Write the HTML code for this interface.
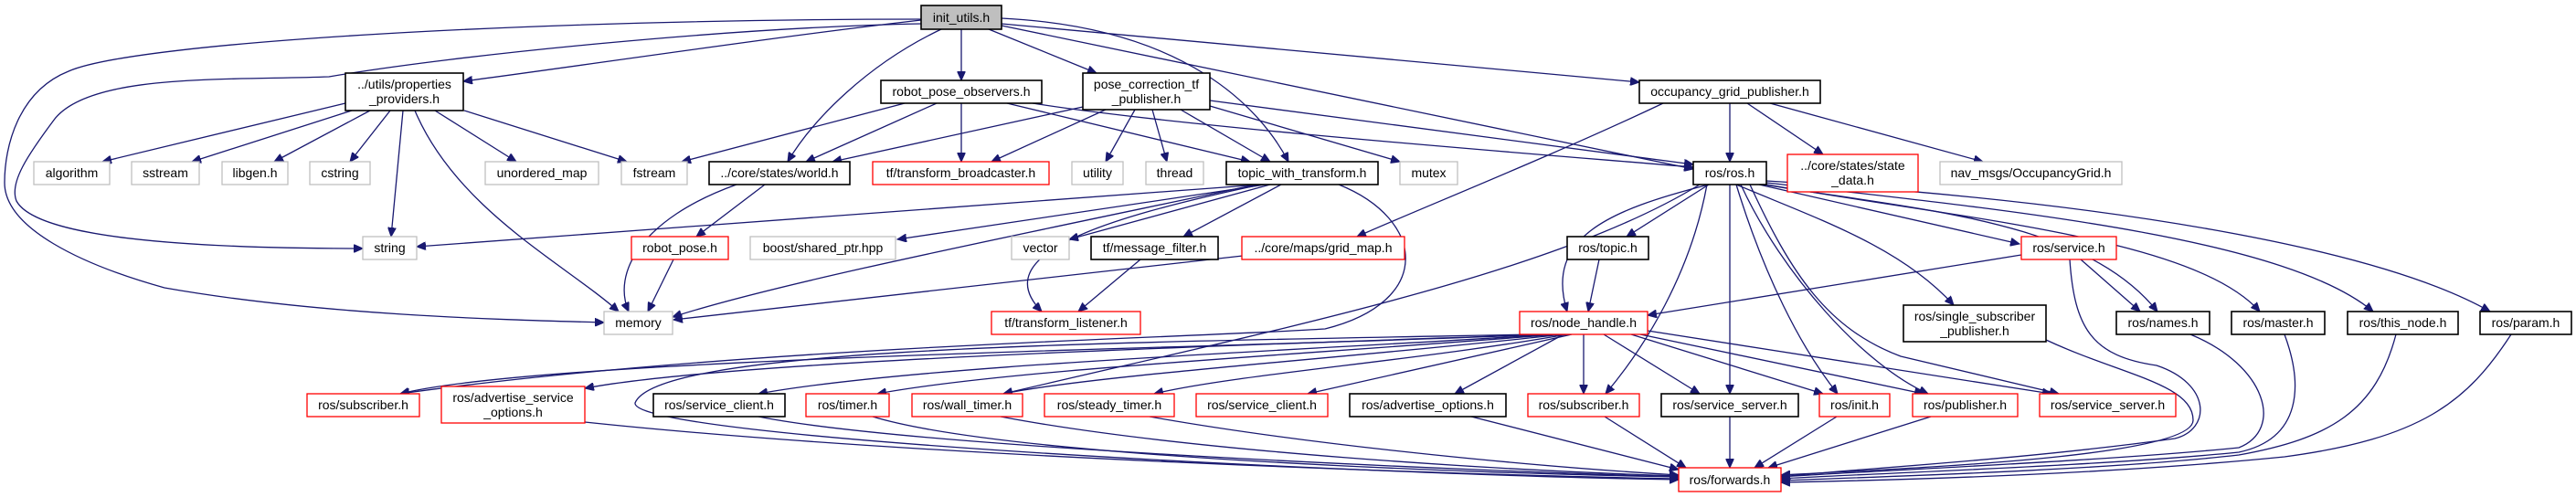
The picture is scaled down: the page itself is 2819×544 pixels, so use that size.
<!DOCTYPE html>
<html><head><meta charset="utf-8"><style>
html,body{margin:0;padding:0;background:#fff;}
svg{display:block;}
text{font-family:"Liberation Sans",sans-serif;font-size:14px;fill:#000;text-anchor:middle;}
.e{fill:none;stroke:#191970;stroke-width:1.3;marker-end:url(#a);}
.g{fill:#fff;stroke:#bfbfbf;stroke-width:1.3;}
.r{fill:#fff;stroke:#ff0000;stroke-width:1.3;}
.b{fill:#fff;stroke:#000;stroke-width:1.6;}
.s{fill:#bfbfbf;stroke:#000;stroke-width:1.6;}
</style></head><body>
<svg width="2819" height="544" viewBox="0 0 2819 544" xmlns="http://www.w3.org/2000/svg">
<defs><marker id="a" markerWidth="11" markerHeight="9" refX="10" refY="4.5" orient="auto" markerUnits="userSpaceOnUse"><path d="M0,0 L10,4.5 L0,9z" fill="#191970" stroke="#191970"/></marker></defs>
<g>
<!-- init_utils edges -->
<path class="e" d="M1008,22 C850,40 650,70 507,89"/>
<path class="e" d="M1008,26 C800,30 500,60 360,84 C250,88 100,80 60,130 C30,170 10,200 18,220 C40,260 200,272 397,272"/>
<path class="e" d="M1008,21 C600,21 150,45 75,78 C20,100 5,160 5,200 C5,250 90,290 180,315 C350,345 550,350 661,353"/>
<path class="e" d="M1030,32 C950,70 890,130 862,177"/>
<path class="e" d="M1052,32 L1052,88"/>
<path class="e" d="M1082,32 L1200,80"/>
<path class="e" d="M1096,26 L1794,90"/>
<path class="e" d="M1096,20 C1300,30 1380,120 1410,177"/>
<path class="e" d="M1096,28 L1853,185"/>
<!-- props -->
<path class="e" d="M378,113 L112,177"/>
<path class="e" d="M385,121 L210,177"/>
<path class="e" d="M405,121 L300,177"/>
<path class="e" d="M427,121 L383,177"/>
<path class="e" d="M441,121 L428,259"/>
<path class="e" d="M454,121 C500,230 620,290 677,341"/>
<path class="e" d="M476,121 L565,177"/>
<path class="e" d="M508,121 L686,177"/>
<!-- rpo -->
<path class="e" d="M990,113 L746,177"/>
<path class="e" d="M1025,113 L882,177"/>
<path class="e" d="M1052,113 L1052,177"/>
<path class="e" d="M1102,113 L1368,177"/>
<path class="e" d="M1130,113 C1300,140 1700,170 1853,183"/>
<!-- pct -->
<path class="e" d="M1185,117 L911,177"/>
<path class="e" d="M1210,120 L1085,177"/>
<path class="e" d="M1242,120 L1210,177"/>
<path class="e" d="M1261,120 L1277,177"/>
<path class="e" d="M1292,120 L1390,177"/>
<path class="e" d="M1324,116 L1532,177"/>
<path class="e" d="M1324,110 L1853,180"/>
<!-- ogp -->
<path class="e" d="M1820,113 C1700,170 1550,230 1485,259"/>
<path class="e" d="M1893,113 L1893,177"/>
<path class="e" d="M1912,113 L1995,169"/>
<path class="e" d="M1937,113 L2170,177"/>
<!-- world -->
<path class="e" d="M806,202 C700,240 670,300 688,341"/>
<path class="e" d="M837,202 L762,259"/>
<path class="e" d="M737,284 L709,341"/>
<!-- twt -->
<path class="e" d="M1380,202 C1000,230 700,250 456,270"/>
<path class="e" d="M1385,202 L982,262"/>
<path class="e" d="M1390,202 L1170,262"/>
<path class="e" d="M1402,202 L1295,259"/>
<path class="e" d="M1375,202 C1100,260 850,310 736,347"/>
<path class="e" d="M1380,202 C1200,240 1080,280 1140,341"/>
<path class="e" d="M1465,202 C1560,240 1570,330 1450,360 C1300,370 800,380 438,431"/>
<path class="e" d="M1248,284 L1180,341"/>
<path class="e" d="M1360,280 L737,350"/>
<!-- ros.h -->
<path class="e" d="M1870,202 C1760,230 1690,260 1715,341"/>
<path class="e" d="M1870,202 L1780,259"/>
<path class="e" d="M1925,202 L2210,267"/>
<path class="e" d="M1930,202 C2100,230 2280,240 2361,341"/>
<path class="e" d="M1933,202 C2150,240 2400,260 2473,341"/>
<path class="e" d="M1933,200 C2200,230 2500,260 2597,341"/>
<path class="e" d="M1933,198 C2300,220 2600,270 2725,341"/>
<path class="e" d="M1900,202 C1990,240 2080,270 2138,334"/>
<path class="e" d="M1868,202 C1850,300 1800,380 1757,431"/>
<path class="e" d="M1893,202 L1893,431"/>
<path class="e" d="M1900,202 C1930,300 1970,380 2011,431"/>
<path class="e" d="M1905,202 C1950,300 2040,400 2110,431"/>
<path class="e" d="M1915,202 C1960,300 2000,360 2080,390 L2253,431"/>
<path class="e" d="M1860,202 C1700,300 1400,360 1098,431"/>
<!-- service -->
<path class="e" d="M2212,279 L1803,345"/>
<path class="e" d="M2277,284 L2342,341"/>
<path class="e" d="M2265,284 C2270,360 2290,390 2360,400 C2420,420 2420,470 2380,480 C2200,505 2000,515 1949,522"/>
<path class="e" d="M1750,284 L1738,341"/>
<!-- nh -->
<path class="e" d="M1690,366 C1400,380 600,390 438,431"/>
<path class="e" d="M1690,366 C1300,380 800,395 640,425"/>
<path class="e" d="M1700,366 C1400,385 1000,400 830,431"/>
<path class="e" d="M1705,366 C1400,390 1100,405 960,431"/>
<path class="e" d="M1710,366 C1500,390 1200,410 1098,431"/>
<path class="e" d="M1715,366 C1550,395 1350,410 1263,431"/>
<path class="e" d="M1720,366 L1431,431"/>
<path class="e" d="M1711,366 L1592,431"/>
<path class="e" d="M1733,366 L1733,431"/>
<path class="e" d="M1755,366 L1860,431"/>
<path class="e" d="M1785,366 L1995,431"/>
<path class="e" d="M1795,366 L2105,431"/>
<path class="e" d="M1803,362 L2245,431"/>
<path class="e" d="M1680,366 C1200,375 720,380 695,441 C690,480 1500,520 1837,525"/>
<!-- to forwards -->
<path class="e" d="M640,462 C1000,500 1600,520 1837,524"/>
<path class="e" d="M830,456 C1000,490 1600,515 1837,522"/>
<path class="e" d="M955,456 C1100,500 1600,518 1837,522"/>
<path class="e" d="M1095,456 C1300,495 1650,515 1837,521"/>
<path class="e" d="M1258,456 C1450,490 1700,512 1837,520"/>
<path class="e" d="M1610,456 L1837,514"/>
<path class="e" d="M1756,456 L1845,512"/>
<path class="e" d="M1893,456 L1893,512"/>
<path class="e" d="M2010,456 L1920,512"/>
<path class="e" d="M2113,456 L1935,512"/>
<path class="e" d="M2239,372 C2320,410 2400,420 2400,460 C2400,500 2100,512 1949,520"/>
<path class="e" d="M2397,366 C2480,400 2500,470 2450,490 C2300,505 2050,515 1949,522"/>
<path class="e" d="M2500,366 C2520,420 2520,480 2450,495 C2300,510 2050,518 1949,524"/>
<path class="e" d="M2622,366 C2600,450 2550,480 2450,498 C2300,515 2050,522 1949,526"/>
<path class="e" d="M2748,366 C2700,440 2650,480 2500,500 C2300,520 2050,526 1949,528"/>
</g>
<g>
<rect class="s" x="1008" y="6" width="88" height="26"/><text x="1052" y="24">init_utils.h</text>
<rect class="b" x="378" y="80" width="129" height="41"/><text x="442.5" y="97">../utils/properties</text><text x="442.5" y="113">_providers.h</text>
<rect class="g" x="37" y="177" width="83" height="25"/><text x="78.5" y="194">algorithm</text>
<rect class="g" x="144" y="177" width="74" height="25"/><text x="181" y="194">sstream</text>
<rect class="g" x="243" y="177" width="72" height="25"/><text x="279" y="194">libgen.h</text>
<rect class="g" x="339" y="177" width="66" height="25"/><text x="372" y="194">cstring</text>
<rect class="g" x="531" y="177" width="124" height="25"/><text x="593" y="194">unordered_map</text>
<rect class="g" x="680" y="177" width="72" height="25"/><text x="716" y="194">fstream</text>
<rect class="b" x="776" y="177" width="154" height="25"/><text x="853" y="194">../core/states/world.h</text>
<rect class="g" x="397" y="259" width="59" height="25"/><text x="426.5" y="276">string</text>
<rect class="r" x="691" y="259" width="106" height="25"/><text x="744" y="276">robot_pose.h</text>
<rect class="g" x="821" y="259" width="159" height="25"/><text x="900.5" y="276">boost/shared_ptr.hpp</text>
<rect class="b" x="964" y="88" width="176" height="25"/><text x="1052" y="105">robot_pose_observers.h</text>
<rect class="b" x="1185" y="80" width="139" height="40"/><text x="1254.5" y="97">pose_correction_tf</text><text x="1254.5" y="113">_publisher.h</text>
<rect class="b" x="1794" y="88" width="198" height="25"/><text x="1893" y="105">occupancy_grid_publisher.h</text>
<rect class="r" x="955" y="177" width="193" height="25"/><text x="1051.5" y="194">tf/transform_broadcaster.h</text>
<rect class="g" x="1173" y="177" width="56" height="25"/><text x="1201" y="194">utility</text>
<rect class="g" x="1254" y="177" width="63" height="25"/><text x="1285.5" y="194">thread</text>
<rect class="b" x="1342" y="177" width="166" height="25"/><text x="1425" y="194">topic_with_transform.h</text>
<rect class="g" x="1532" y="177" width="63" height="25"/><text x="1563.5" y="194">mutex</text>
<rect class="g" x="1107" y="259" width="63" height="25"/><text x="1138.5" y="276">vector</text>
<rect class="b" x="1194" y="259" width="139" height="25"/><text x="1263.5" y="276">tf/message_filter.h</text>
<rect class="r" x="1359" y="259" width="178" height="25"/><text x="1448" y="276">../core/maps/grid_map.h</text>
<rect class="b" x="1715" y="259" width="89" height="25"/><text x="1759.5" y="276">ros/topic.h</text>
<rect class="b" x="1853" y="177" width="80" height="25"/><text x="1893" y="194">ros/ros.h</text>
<rect class="r" x="1956" y="169" width="143" height="41"/><text x="2027.5" y="186">../core/states/state</text><text x="2027.5" y="202">_data.h</text>
<rect class="g" x="2123" y="177" width="199" height="25"/><text x="2222.5" y="194">nav_msgs/OccupancyGrid.h</text>
<rect class="r" x="2212" y="259" width="104" height="25"/><text x="2264" y="276">ros/service.h</text>
<rect class="g" x="661" y="341" width="75" height="25"/><text x="698.5" y="358">memory</text>
<rect class="r" x="1085" y="341" width="163" height="25"/><text x="1166.5" y="358">tf/transform_listener.h</text>
<rect class="r" x="1663" y="341" width="140" height="25"/><text x="1733" y="358">ros/node_handle.h</text>
<rect class="b" x="2083" y="334" width="156" height="40"/><text x="2161" y="351">ros/single_subscriber</text><text x="2161" y="367">_publisher.h</text>
<rect class="b" x="2316" y="341" width="102" height="25"/><text x="2367" y="358">ros/names.h</text>
<rect class="b" x="2442" y="341" width="102" height="25"/><text x="2493" y="358">ros/master.h</text>
<rect class="b" x="2569" y="341" width="121" height="25"/><text x="2629.5" y="358">ros/this_node.h</text>
<rect class="b" x="2714" y="341" width="100" height="25"/><text x="2764" y="358">ros/param.h</text>
<rect class="r" x="336" y="431" width="123" height="25"/><text x="397.5" y="448">ros/subscriber.h</text>
<rect class="r" x="483" y="423" width="157" height="40"/><text x="561.5" y="440">ros/advertise_service</text><text x="561.5" y="456">_options.h</text>
<rect class="b" x="715" y="431" width="144" height="25"/><text x="787" y="448">ros/service_client.h</text>
<rect class="r" x="882" y="431" width="91" height="25"/><text x="927.5" y="448">ros/timer.h</text>
<rect class="r" x="998" y="431" width="121" height="25"/><text x="1058.5" y="448">ros/wall_timer.h</text>
<rect class="r" x="1143" y="431" width="142" height="25"/><text x="1214" y="448">ros/steady_timer.h</text>
<rect class="r" x="1309" y="431" width="144" height="25"/><text x="1381" y="448">ros/service_client.h</text>
<rect class="b" x="1477" y="431" width="171" height="25"/><text x="1562.5" y="448">ros/advertise_options.h</text>
<rect class="r" x="1672" y="431" width="122" height="25"/><text x="1733" y="448">ros/subscriber.h</text>
<rect class="b" x="1818" y="431" width="150" height="25"/><text x="1893" y="448">ros/service_server.h</text>
<rect class="r" x="1991" y="431" width="77" height="25"/><text x="2029.5" y="448">ros/init.h</text>
<rect class="r" x="2093" y="431" width="115" height="25"/><text x="2150.5" y="448">ros/publisher.h</text>
<rect class="r" x="2232" y="431" width="149" height="25"/><text x="2306.5" y="448">ros/service_server.h</text>
<rect class="r" x="1837" y="512" width="112" height="26"/><text x="1893" y="530">ros/forwards.h</text>
</g>
</svg>
</body></html>
